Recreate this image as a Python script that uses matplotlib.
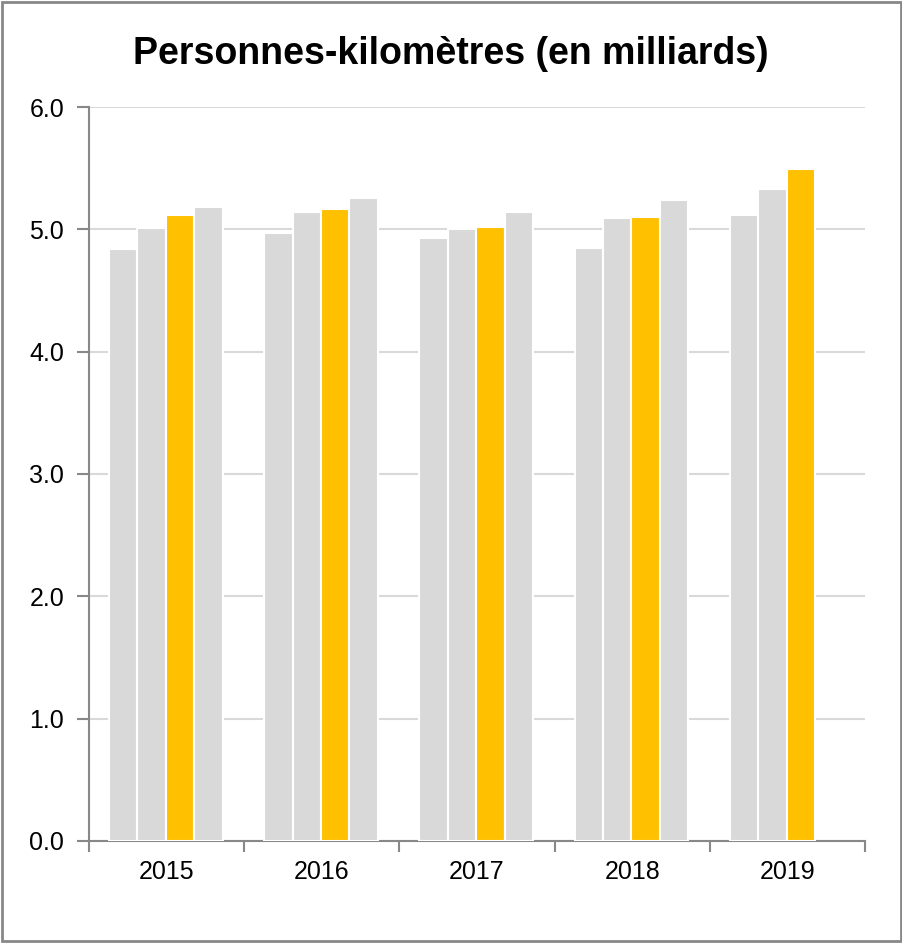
import numpy as np
import matplotlib.pyplot as plt
from matplotlib.patches import Rectangle

plt.rcParams['font.family'] = ['Liberation Sans', 'DejaVu Sans']

# Données : personnes-km par trimestre (en milliards)
years = ['2015', '2016', '2017', '2018', '2019']
q1 = [4.84, 4.97, 4.93, 4.85, 5.12]
q2 = [5.01, 5.14, 5.00, 5.09, 5.33]
q3 = [5.12, 5.17, 5.02, 5.10, 5.49]
q4 = [5.18, 5.26, 5.14, 5.24, np.nan]

grey = '#d9d9d9'
gold = '#ffc000'

fig = plt.figure(figsize=(9.02, 9.43), dpi=100)
ax = fig.add_axes([0.0987, 0.1082, 0.8603, 0.7783])

x = np.arange(len(years))
w = 0.183
series = [(q1, grey), (q2, grey), (q3, gold), (q4, grey)]
for i, (vals, col) in enumerate(series):
    ax.bar(x + (i - 1.5) * w - 0.005, vals, width=w, color=col,
           edgecolor='white', linewidth=1.5, zorder=3)

ax.set_xlim(-0.5, len(years) - 0.5)
ax.set_ylim(0, 6)
ax.set_yticks(np.arange(0, 6.1, 1.0))
ax.set_yticklabels([f'{v:.1f}' for v in np.arange(0, 6.1, 1.0)])
ax.set_xticks(x)
ax.set_xticklabels(years)
ax.set_xticks(np.arange(-0.5, len(years)), minor=True)
ax.tick_params(axis='x', which='major', length=0, labelsize=18, pad=14)
ax.tick_params(axis='x', which='minor', length=8, color='#888888', width=1.5)
ax.tick_params(axis='y', length=9, color='#888888', width=1.5, labelsize=18, pad=9)

ax.grid(axis='y', color='#d9d9d9', linewidth=1.5, zorder=0)
for s in ['top', 'right']:
    ax.spines[s].set_visible(False)
for s in ['left', 'bottom']:
    ax.spines[s].set_color('#888888')
    ax.spines[s].set_linewidth(1.5)

fig.suptitle('Personnes-kilomètres (en milliards)', fontsize=27, fontweight='bold',
             x=0.5, y=0.962)

# cadre autour de la figure
fig.patches.append(Rectangle((0.002, 0.002), 0.997, 0.996, transform=fig.transFigure,
                             fill=False, edgecolor='#888888', linewidth=2))

fig.savefig('out.png', dpi=100)
